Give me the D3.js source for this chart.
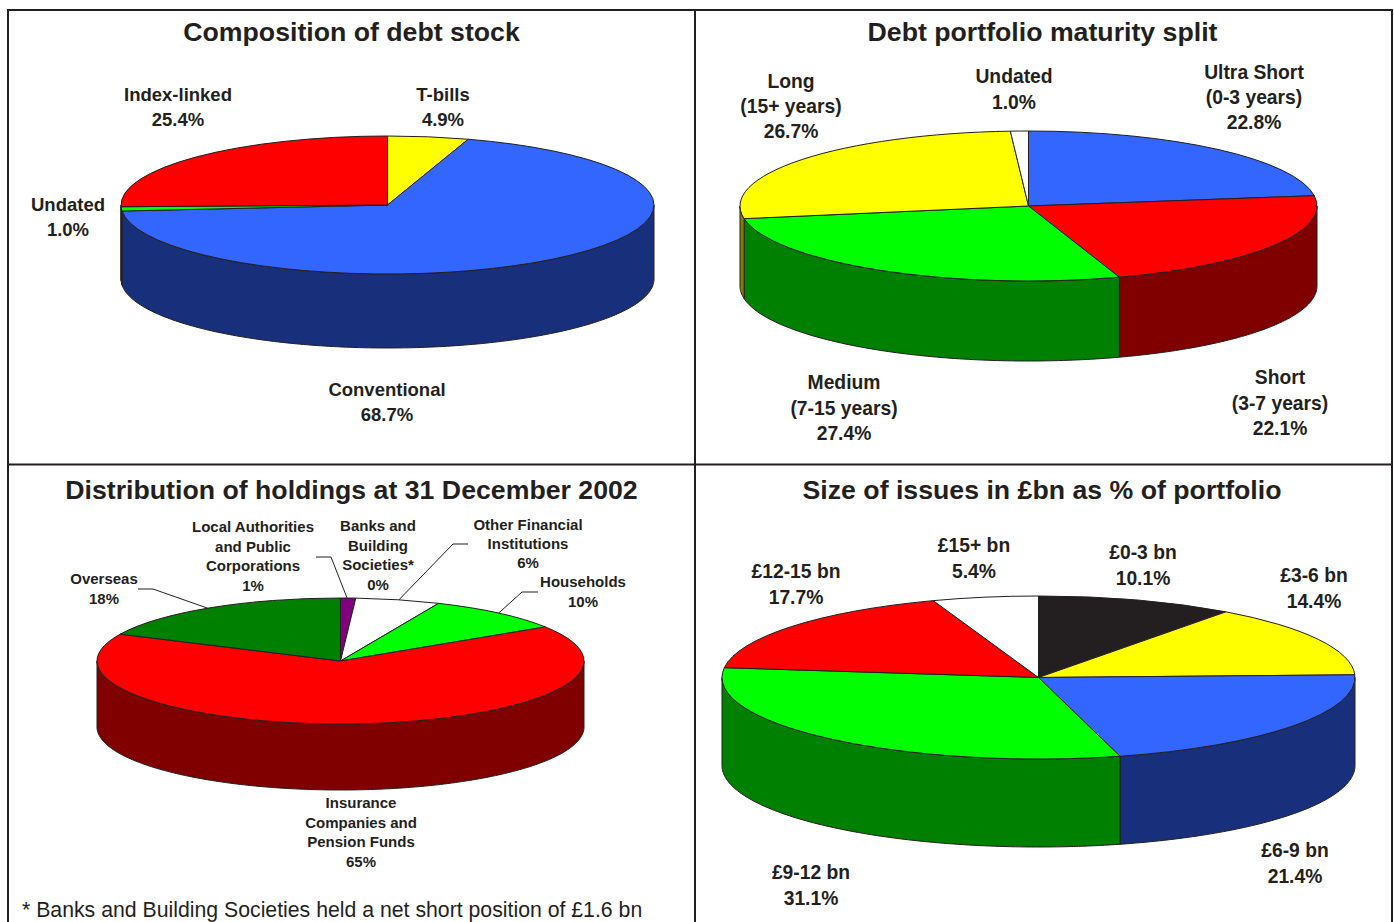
<!DOCTYPE html>
<html>
<head>
<meta charset="utf-8">
<script src="https://cdn.jsdelivr.net/npm/d3@7/dist/d3.min.js"></script>
<style>
html,body{margin:0;padding:0;background:#fff;overflow:hidden}
svg{display:block}
text{font-family:"Liberation Sans",Arial,sans-serif;font-weight:bold;fill:#231f20;text-anchor:middle}
</style>
</head>
<body>
<svg id="c" width="1394" height="922"></svg>
<script>
// ---------- data ----------
const stockCategories = ["T-bills","Conventional","Undated","Index-linked"];
const stockValues = [4.9,68.7,1.0,25.4];
const maturityCategories = ["Ultra Short","Short","Medium","Long","Undated"];
const maturityValues = [22.8,22.1,27.4,26.7,1.0];
const holdingCategories = ["Local Authorities","Banks","Other Financial","Households","Insurance","Overseas"];
const holdingValues = [1.0,0,5.6,9.3,66.1,18];
const sizeCategories = ["£0-3 bn","£3-6 bn","£6-9 bn","£9-12 bn","£12-15 bn","£15+ bn"];
const sizeValues = [10.1,14.4,21.4,31.1,17.7,5.4];

// ---------- palette (top, wall) ----------
const BLUE=["#3366ff","#18307c"],RED=["#ff0000","#800000"],GREEN=["#00ff00","#008000"],
      YEL=["#ffff00","#808000"],WHITE=["#ffffff","#c0c0c0"],BLACK=["#231f20","#000000"],
      DGREEN=["#008000","#004000"],PURPLE=["#800080","#400040"];
const INK="#231f20";

const svg=d3.select("#c");

function pie3d(cfg){
  const g=svg.append("g");
  const x=d3.scaleLinear([-1,1],[cfg.cx-cfg.rx,cfg.cx+cfg.rx]);
  const y=d3.scaleLinear([-1,1],[cfg.cy-cfg.ry,cfg.cy+cfg.ry]);
  const arcs=d3.pie().sort(null).value(d=>d)(cfg.values);
  const HALF=Math.PI/2, END=3*Math.PI/2;
  const wall=d3.area()
    .x(t=>x(Math.sin(t)))
    .y0(t=>y(-Math.cos(t)))
    .y1(t=>y(-Math.cos(t))+cfg.depth);
  // walls only on the front half of the disc
  arcs.forEach((a,i)=>{
    const s=Math.max(a.startAngle,HALF), e=Math.min(a.endAngle,END);
    if(e<=s) return;
    const n=Math.max(2,Math.ceil((e-s)*60));
    const ts=d3.range(n+1).map(k=>s+(e-s)*k/n);
    g.append("path").attr("d",wall(ts)).attr("fill",cfg.colors[i][1])
      .attr("stroke",INK).attr("stroke-width",1).attr("stroke-linejoin","round");
  });
  // top faces
  const arc=d3.arc().innerRadius(0).outerRadius(cfg.rx);
  arcs.forEach((a,i)=>{
    if(a.endAngle-a.startAngle<=0) return;
    g.append("path").attr("d",arc(a))
      .attr("transform",`translate(${cfg.cx},${cfg.cy}) scale(1,${cfg.ry/cfg.rx})`)
      .attr("fill",cfg.colors[i][0]).attr("stroke",INK).attr("stroke-width",1)
      .attr("vector-effect","non-scaling-stroke").attr("stroke-linejoin","round");
  });
  // leader lines: elbow offsets end on the rim at a fraction inside the slice
  (cfg.leaders||[]).forEach(l=>{
    const a=arcs[l.slice];
    const t=a.startAngle+(a.endAngle-a.startAngle)*l.at;
    const tip=[x(Math.sin(t)),y(-Math.cos(t))];
    g.append("path").attr("d",d3.line()([l.from,l.elbow,tip]))
      .attr("fill","none").attr("stroke",INK).attr("stroke-width",1);
  });
}

function label(lines,cx,base,lh,size){
  const t=svg.append("text").attr("font-size",size);
  lines.forEach((s,i)=>t.append("tspan").attr("x",cx).attr("y",base+i*lh).text(s));
}
function title(s,cx,y){
  svg.append("text").attr("x",cx).attr("y",y).attr("font-size",26.7).text(s);
}

// ---------- charts ----------
pie3d({cx:387.5,cy:205,rx:266.5,ry:69,depth:74,values:stockValues,colors:[YEL,BLUE,GREEN,RED]});
pie3d({cx:1028.5,cy:206,rx:288.5,ry:75,depth:80,values:maturityValues,colors:[BLUE,RED,GREEN,YEL,WHITE]});
pie3d({cx:340.5,cy:661,rx:243.5,ry:63,depth:66,values:holdingValues,colors:[PURPLE,PURPLE,WHITE,GREEN,RED,DGREEN],
  leaders:[
    {slice:5,at:0.49,from:[138,589],elbow:[153,589]},
    {slice:0,at:0.43,from:[316,557],elbow:[331,557]},
    {slice:2,at:0.51,from:[468,544],elbow:[453,544]},
    {slice:3,at:0.50,from:[538,592],elbow:[522,592]}
  ]});
pie3d({cx:1038.5,cy:677.5,rx:316.5,ry:81.5,depth:88,values:sizeValues,colors:[BLACK,YEL,BLUE,GREEN,RED,WHITE]});

// ---------- panel frame ----------
const frame=[[[8,922],[8,10],[1392,10],[1392,922]],[[695,10],[695,922]],[[8,464.5],[1392,464.5]]];
frame.forEach(p=>svg.append("path").attr("d",d3.line()(p)).attr("fill","none").attr("stroke",INK).attr("stroke-width",2));

// ---------- titles ----------
title("Composition of debt stock",351.5,41);
title("Debt portfolio maturity split",1042.5,41);
title("Distribution of holdings at 31 December 2002",351.5,499);
title("Size of issues in £bn as % of portfolio",1042,499);

// ---------- labels ----------
const A=18.5, B=19.3, H=15;
label(["Index-linked","25.4%"],178,101,25,A);
label(["T-bills","4.9%"],443,101,25,A);
label(["Undated","1.0%"],68,211,25,A);
label(["Conventional","68.7%"],387,396,25,A);

label(["Long","(15+ years)","26.7%"],791,88,25,B);
label(["Undated","1.0%"],1014,83,26,B);
label(["Ultra Short","(0-3 years)","22.8%"],1254,79,25,B);
label(["Medium","(7-15 years)","27.4%"],844,389,25.5,B);
label(["Short","(3-7 years)","22.1%"],1280,384,25.5,B);

label(["Local Authorities","and Public","Corporations","1%"],253,532,19.7,H);
label(["Banks and","Building","Societies*","0%"],378,531,19.7,H);
label(["Other Financial","Institutions","6%"],528,530,19.2,H);
label(["Households","10%"],583,587,19.5,H);
label(["Overseas","18%"],104,584,20,H);
label(["Insurance","Companies and","Pension Funds","65%"],361,808,19.5,H);

label(["£15+ bn","5.4%"],974,552,26,B);
label(["£0-3 bn","10.1%"],1143,559,25.5,B);
label(["£3-6 bn","14.4%"],1314,582,25.5,B);
label(["£12-15 bn","17.7%"],796,578,25.5,B);
label(["£9-12 bn","31.1%"],811,879,26,B);
label(["£6-9 bn","21.4%"],1295,857,25.5,B);

svg.append("text").attr("x",22).attr("y",917).attr("font-size",21.25)
  .style("font-weight","normal").style("text-anchor","start")
  .text("* Banks and Building Societies held a net short position of £1.6 bn");
</script>
</body>
</html>
